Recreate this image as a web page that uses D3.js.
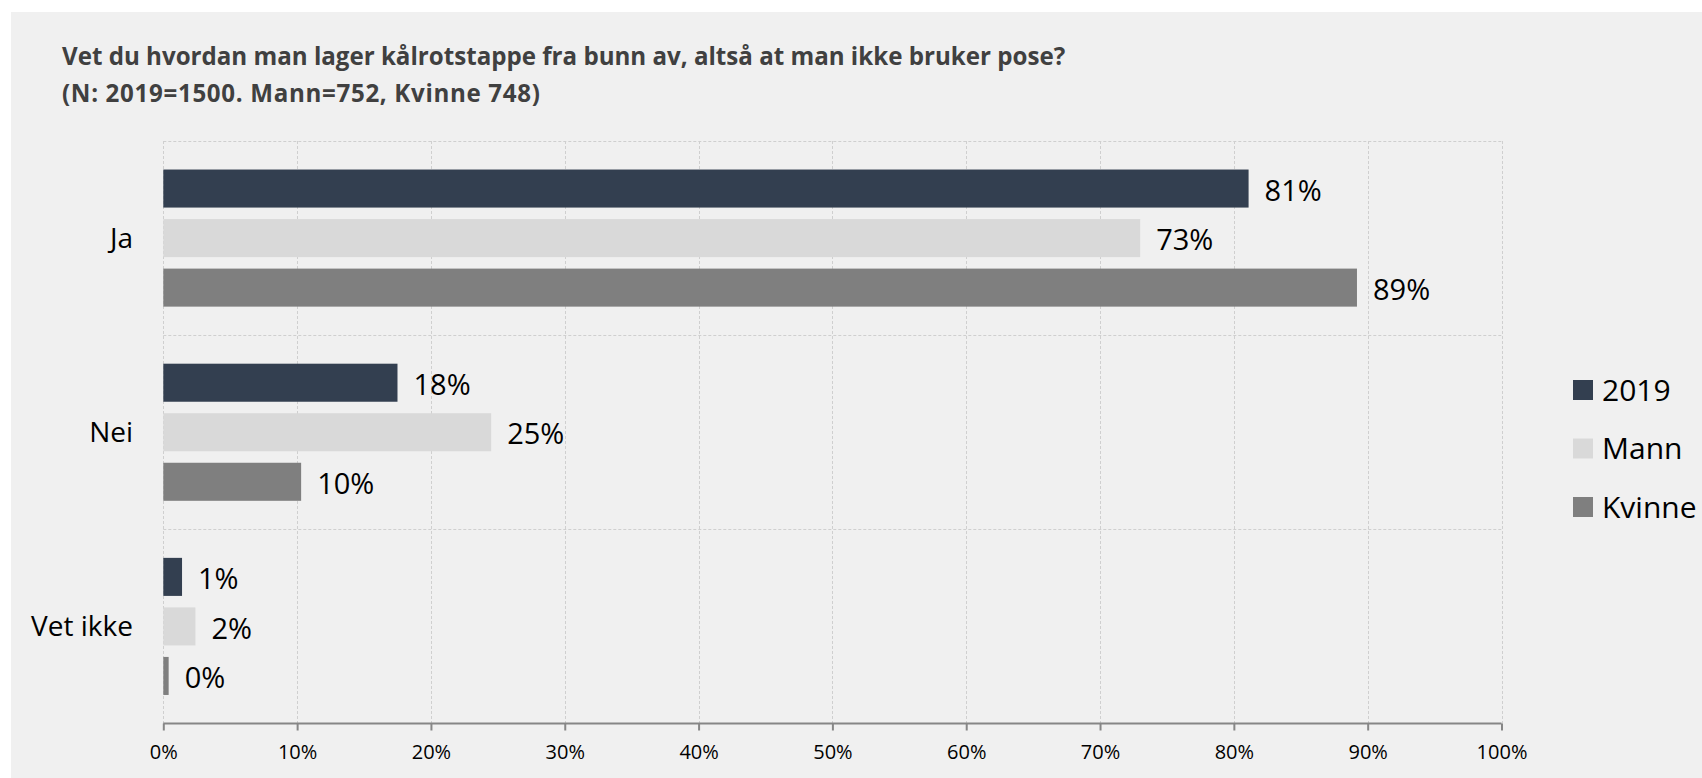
<!DOCTYPE html>
<html>
<head>
<meta charset="utf-8">
<script src="https://cdn.jsdelivr.net/npm/d3@7"></script>
<style>
  html, body { margin: 0; padding: 0; background: #ffffff; }
  svg { display: block; }
  text { font-family: "Open Sans", "Noto Sans", sans-serif; }
</style>
</head>
<body>
<svg id="chart" width="1702" height="778"></svg>
<script>
const titleLines = [
  "Vet du hvordan man lager kålrotstappe fra bunn av, altså at man ikke bruker pose?",
  "(N: 2019=1500. Mann=752, Kvinne 748)"
];
const categories = ["Ja", "Nei", "Vet ikke"];
const seriesNames = ["2019", "Mann", "Kvinne"];
const values2019 = [81.1, 17.5, 1.4];
const valuesMann = [73.0, 24.5, 2.4];
const valuesKvinne = [89.2, 10.3, 0.4];
const valueLabels2019 = ["81%", "18%", "1%"];
const valueLabelsMann = ["73%", "25%", "2%"];
const valueLabelsKvinne = ["89%", "10%", "0%"];
const tickValues = [0, 10, 20, 30, 40, 50, 60, 70, 80, 90, 100];
const colors = ["#333f50", "#d9d9d9", "#7f7f7f"];

const seriesValues = [values2019, valuesMann, valuesKvinne];
const seriesLabels = [valueLabels2019, valueLabelsMann, valueLabelsKvinne];

const svg = d3.select("#chart");

// background panel
svg.append("rect").attr("x", 11).attr("y", 12).attr("width", 1702 - 11).attr("height", 778 - 12).attr("fill", "#f0f0f0");

// title
const title = svg.append("g");
const titleTargets = [1004, 478];
titleLines.forEach((t, i) => {
  title.append("text")
    .attr("x", 62).attr("y", 65 + i * 37)
    .attr("font-weight", 700)
    .attr("font-size", 22)
    .attr("fill", "#404040")
    .text(t);
});
const tNodes = title.selectAll("text").nodes();
const fitSize = 22 * titleTargets[0] / tNodes[0].getComputedTextLength();
title.selectAll("text").attr("font-size", fitSize);
{
  const n = tNodes[1];
  const len = n.getComputedTextLength();
  const extra = (titleTargets[1] - len) / (titleLines[1].length - 1);
  if (extra > 0) d3.select(n).attr("letter-spacing", extra.toFixed(2));
}

const plotLeft = 163.3, plotRight = 1501.5, plotTop = 141, plotBottom = 723.5;

const x = d3.scaleLinear().domain([0, 100]).range([plotLeft, plotRight]);
const y0 = d3.scaleBand().domain(categories).range([plotTop, plotBottom]).padding(0);
const y1 = d3.scaleBand().domain(seriesNames).range([0, y0.bandwidth()]).paddingInner(0.232).paddingOuter(0.576);

// gridlines
const grid = svg.append("g").attr("stroke", "#cfcfcf").attr("stroke-width", 1).attr("stroke-dasharray", "3,2").attr("fill", "none");
tickValues.forEach(v => {
  grid.append("line").attr("x1", Math.round(x(v)) + 0.5).attr("x2", Math.round(x(v)) + 0.5)
    .attr("y1", plotTop).attr("y2", plotBottom);
});
categories.forEach(c => {
  grid.append("line").attr("x1", plotLeft).attr("x2", plotRight)
    .attr("y1", Math.round(y0(c)) + 0.5).attr("y2", Math.round(y0(c)) + 0.5);
});

// bars
const rows = [];
categories.forEach((c, ci) => {
  seriesNames.forEach((s, si) => {
    rows.push({cat: c, ser: s, si, v: seriesValues[si][ci], label: seriesLabels[si][ci]});
  });
});

const gBars = svg.append("g");
gBars.selectAll("rect").data(rows).join("rect")
  .attr("x", x(0))
  .attr("y", d => y0(d.cat) + y1(d.ser))
  .attr("width", d => x(d.v) - x(0))
  .attr("height", y1.bandwidth())
  .attr("fill", d => colors[d.si]);

gBars.selectAll("text").data(rows).join("text")
  .attr("x", d => x(d.v) + 16)
  .attr("y", d => y0(d.cat) + y1(d.ser) + y1.bandwidth() / 2)
  .attr("dy", "0.42em")
  .attr("font-size", 29)
  .attr("fill", "#000")
  .text(d => d.label);

// category labels
svg.append("g").selectAll("text").data(categories).join("text")
  .attr("x", 133)
  .attr("y", d => y0(d) + y0.bandwidth() / 2)
  .attr("dy", "0.36em")
  .attr("text-anchor", "end")
  .attr("font-size", 28)
  .attr("fill", "#000")
  .text(d => d);

// x axis
const xAxis = d3.axisBottom(x).tickValues(tickValues).tickFormat(d => d + "%").tickSize(7).tickPadding(14);
const ax = svg.append("g").attr("transform", `translate(0,${plotBottom})`).call(xAxis);
ax.select(".domain").attr("stroke", "#868686").attr("stroke-width", 2).attr("d", `M${plotLeft},0H${plotRight}`);
ax.selectAll(".tick line").attr("stroke", "#868686").attr("stroke-width", 2);
ax.selectAll(".tick text").attr("font-size", 20).attr("fill", "#000").attr("font-family", "'Open Sans', sans-serif");

// legend
const leg = svg.append("g");
seriesNames.forEach((s, i) => {
  const yy = 380 + i * 58.5;
  leg.append("rect").attr("x", 1573).attr("y", yy).attr("width", 20).attr("height", 20).attr("fill", colors[i]);
  leg.append("text").attr("x", 1602).attr("y", yy + 10).attr("dy", "0.36em")
    .attr("font-size", 30).attr("fill", "#000").text(s);
});
</script>
</body>
</html>
